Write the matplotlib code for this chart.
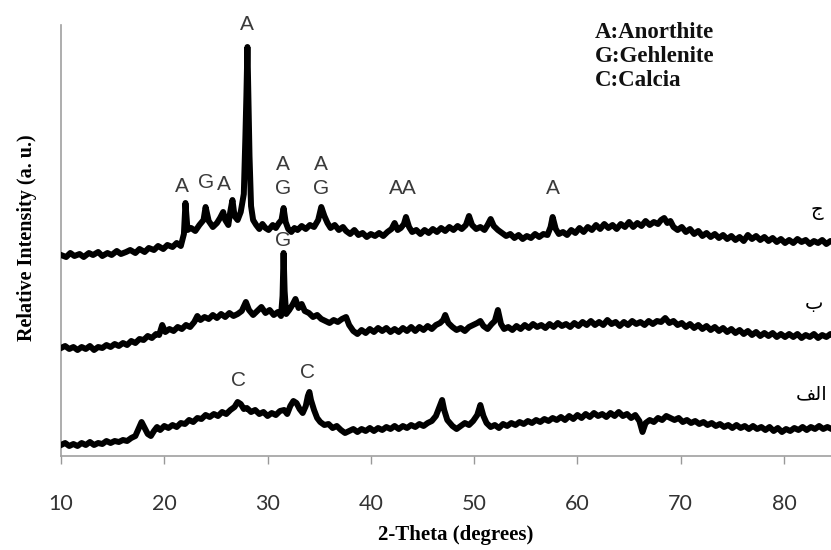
import matplotlib
matplotlib.use("Agg")
from matplotlib import pyplot as plt

# XRD patterns: (2-theta, relative intensity)
pattern_c = [(10.0,201),(10.5,199),(10.9,203),(11.3,200),(11.8,202),(12.2,199),(12.7,203),(13.1,201),(13.6,204),(14.0,200),
             (14.5,203),(14.9,201),(15.4,205),(15.8,202),(16.3,204),(16.7,206),(17.2,203),(17.6,207),(18.1,204),(18.5,208),
             (19.0,206),(19.4,210),(19.9,207),(20.3,211),(20.8,209),(21.2,213),(21.6,210),(21.9,222),(22.05,253),(22.25,226),
             (22.6,228),(23.0,225),(23.4,231),(23.8,236),(24.0,249),(24.3,235),(24.7,229),(25.1,233),(25.4,238),(25.7,244),
             (25.9,236),(26.2,231),(26.4,245),(26.6,256),(26.8,240),(27.1,236),(27.4,244),(27.7,262),(27.85,318),(27.95,360),
             (28.05,409),(28.15,352),(28.25,300),(28.4,250),(28.6,236),(28.9,231),(29.2,227),(29.5,232),(29.8,228),(30.1,226),
             (30.5,231),(30.8,228),(31.1,233),(31.35,236),(31.55,248),(31.75,234),(32.0,227),(32.3,224),(32.6,228),(32.9,226),
             (33.3,230),(33.7,227),(34.1,231),(34.5,229),(34.9,236),(35.2,249),(35.5,240),(35.8,233),(36.1,228),(36.5,231),
             (36.9,226),(37.3,229),(37.6,225),(38.0,222),(38.4,226),(38.8,221),(39.2,223),(39.6,219),(40.0,222),(40.4,220),
             (40.8,223),(41.2,220),(41.6,224),(42.0,227),(42.3,233),(42.6,226),(42.9,228),(43.2,232),(43.4,239),(43.7,229),
             (44.0,224),(44.4,226),(44.8,222),(45.2,226),(45.6,223),(46.0,227),(46.4,224),(46.8,228),(47.2,225),(47.6,229),
             (48.0,226),(48.4,230),(48.8,227),(49.2,231),(49.5,240),(49.8,231),(50.2,227),(50.6,229),(51.0,226),(51.3,231),
             (51.6,237),(51.9,230),(52.3,226),(52.7,223),(53.1,220),(53.5,222),(53.9,218),(54.3,221),(54.7,217),(55.1,220),
             (55.5,218),(55.9,222),(56.3,219),(56.7,222),(57.1,221),(57.4,229),(57.6,239),(57.9,227),(58.2,222),(58.6,224),
             (59.0,221),(59.4,226),(59.8,223),(60.2,228),(60.6,224),(61.0,229),(61.4,226),(61.8,231),(62.2,227),(62.6,232),
             (63.0,228),(63.4,231),(63.8,227),(64.2,232),(64.6,229),(65.0,234),(65.4,229),(65.8,233),(66.2,230),(66.6,235),
             (67.0,231),(67.4,234),(67.8,232),(68.1,236),(68.4,238),(68.7,233),(69.0,235),(69.3,229),(69.7,226),(70.1,229),
             (70.5,224),(70.9,227),(71.3,222),(71.7,225),(72.1,220),(72.5,223),(72.9,219),(73.3,222),(73.7,218),(74.1,221),
             (74.5,217),(74.9,220),(75.3,216),(75.7,219),(76.1,215),(76.5,221),(76.9,217),(77.3,220),(77.7,216),(78.1,219),
             (78.5,215),(78.9,218),(79.3,214),(79.7,217),(80.1,213),(80.5,216),(80.9,213),(81.3,217),(81.7,214),(82.1,216),
             (82.5,212),(82.9,215),(83.3,213),(83.7,216),(84.1,212),(84.5,215),(85.0,214)]

pattern_b = [(10.0,108),(10.4,110),(10.8,107),(11.2,109),(11.6,106),(12.0,109),(12.4,107),(12.8,110),(13.2,106),(13.6,109),
             (14.0,108),(14.4,111),(14.8,109),(15.2,112),(15.6,110),(16.0,113),(16.4,111),(16.8,115),(17.2,113),(17.6,117),
             (18.0,116),(18.4,120),(18.8,118),(19.2,122),(19.5,121),(19.8,131),(20.1,124),(20.5,127),(20.9,125),(21.3,129),
             (21.7,127),(22.1,131),(22.5,129),(22.9,134),(23.2,140),(23.5,136),(23.9,139),(24.3,137),(24.7,141),(25.1,138),
             (25.5,142),(25.9,139),(26.3,143),(26.7,140),(27.1,142),(27.5,145),(27.9,154),(28.2,146),(28.6,141),(29.0,145),
             (29.4,149),(29.8,143),(30.2,146),(30.6,141),(31.0,144),(31.3,140),(31.45,160),(31.55,203),(31.65,165),(31.8,142),
             (32.1,146),(32.4,151),(32.7,157),(33.0,148),(33.3,152),(33.6,145),(34.0,143),(34.4,139),(34.8,141),(35.2,137),
             (35.6,135),(36.0,133),(36.4,136),(36.8,134),(37.2,137),(37.6,139),(37.9,131),(38.3,125),(38.7,122),(39.1,126),
             (39.5,123),(39.9,127),(40.3,124),(40.7,128),(41.1,125),(41.5,128),(41.9,124),(42.3,127),(42.7,124),(43.1,128),
             (43.5,125),(43.9,129),(44.3,125),(44.7,129),(45.1,126),(45.5,130),(45.9,127),(46.3,131),(46.7,133),(47.0,136),
             (47.2,141),(47.5,133),(47.9,129),(48.3,126),(48.7,128),(49.1,125),(49.5,129),(49.9,131),(50.3,133),(50.6,135),
             (50.9,130),(51.3,127),(51.7,132),(52.0,135),(52.3,146),(52.6,132),(52.9,127),(53.3,129),(53.7,126),(54.1,130),
             (54.5,127),(54.9,131),(55.3,128),(55.7,132),(56.1,129),(56.5,131),(56.9,128),(57.3,132),(57.7,129),(58.1,133),
             (58.5,130),(58.9,132),(59.3,129),(59.7,133),(60.1,130),(60.5,134),(60.9,131),(61.3,135),(61.7,131),(62.1,134),
             (62.5,131),(62.9,136),(63.3,132),(63.7,134),(64.1,130),(64.5,134),(64.9,131),(65.3,135),(65.7,132),(66.1,134),
             (66.5,131),(66.9,135),(67.3,132),(67.7,135),(68.1,134),(68.5,138),(68.9,133),(69.3,135),(69.7,131),(70.1,133),
             (70.5,129),(70.9,132),(71.3,128),(71.7,131),(72.1,127),(72.5,130),(72.9,126),(73.3,129),(73.7,125),(74.1,128),
             (74.5,124),(74.9,127),(75.3,123),(75.7,126),(76.1,122),(76.5,125),(76.9,121),(77.3,124),(77.7,120),(78.1,123),
             (78.5,120),(78.9,123),(79.3,119),(79.7,122),(80.1,119),(80.5,122),(80.9,119),(81.3,122),(81.7,118),(82.1,121),
             (82.5,119),(82.9,122),(83.3,118),(83.7,121),(84.1,119),(84.5,122),(85.0,120)]

pattern_a = [(10.0,11),(10.4,13),(10.8,10),(11.2,12),(11.6,10),(12.0,13),(12.4,11),(12.8,14),(13.2,11),(13.6,13),
             (14.0,12),(14.4,15),(14.8,13),(15.2,15),(15.6,14),(16.0,16),(16.4,15),(16.8,18),(17.2,20),(17.5,27),
             (17.8,34),(18.1,28),(18.4,22),(18.7,20),(19.0,25),(19.3,29),(19.6,26),(20.0,30),(20.4,28),(20.8,31),
             (21.2,29),(21.6,33),(22.0,32),(22.4,36),(22.8,34),(23.2,38),(23.6,37),(24.0,41),(24.4,39),(24.8,42),
             (25.2,40),(25.6,44),(26.0,42),(26.4,46),(26.8,49),(27.1,54),(27.4,52),(27.7,47),(28.0,48),(28.4,44),
             (28.8,46),(29.2,42),(29.6,44),(30.0,40),(30.4,43),(30.8,41),(31.2,45),(31.6,46),(31.9,42),(32.2,50),
             (32.5,55),(32.8,53),(33.1,47),(33.4,43),(33.7,50),(33.9,60),(34.05,64),(34.2,56),(34.5,46),(34.8,38),
             (35.1,34),(35.5,31),(35.9,32),(36.3,28),(36.7,30),(37.1,26),(37.5,23),(37.9,25),(38.3,27),(38.7,24),
             (39.1,27),(39.5,25),(39.9,28),(40.3,25),(40.7,28),(41.1,26),(41.5,29),(41.9,27),(42.3,30),(42.7,27),
             (43.1,30),(43.5,28),(43.9,31),(44.3,29),(44.7,32),(45.1,30),(45.5,33),(45.9,35),(46.3,40),(46.6,48),
             (46.9,56),(47.1,46),(47.4,36),(47.9,30),(48.3,27),(48.7,30),(49.1,33),(49.5,31),(49.9,35),(50.3,41),
             (50.6,51),(50.9,40),(51.2,33),(51.6,29),(52.0,31),(52.4,28),(52.8,32),(53.2,30),(53.6,33),(54.0,31),
             (54.4,34),(54.8,32),(55.2,35),(55.6,33),(56.0,36),(56.4,34),(56.8,37),(57.2,35),(57.6,38),(58.0,36),
             (58.4,39),(58.8,36),(59.2,40),(59.6,37),(60.0,41),(60.4,38),(60.8,42),(61.2,39),(61.6,43),(62.0,40),
             (62.4,42),(62.8,39),(63.2,43),(63.6,40),(64.0,44),(64.4,40),(64.8,42),(65.2,38),(65.6,41),(66.0,35),
             (66.3,24),(66.6,33),(67.0,36),(67.4,34),(67.8,38),(68.2,36),(68.6,40),(69.0,38),(69.4,36),(69.8,38),
             (70.2,34),(70.6,36),(71.0,33),(71.4,35),(71.8,32),(72.2,34),(72.6,31),(73.0,33),(73.4,30),(73.8,32),
             (74.2,29),(74.6,31),(75.0,28),(75.4,31),(75.8,28),(76.2,30),(76.6,27),(77.0,30),(77.4,27),(77.8,29),
             (78.2,26),(78.6,29),(79.0,25),(79.4,28),(79.8,24),(80.2,27),(80.6,25),(81.0,28),(81.4,26),(81.8,29),
             (82.2,26),(82.6,29),(83.0,27),(83.4,30),(83.8,27),(84.2,29),(84.6,27),(85.0,28)]

# phase marks (letter, 2-theta, height)
peak_marks = [("A", 28.0, 432), ("A", 21.7, 270), ("G", 24.0, 273), ("A", 25.8, 272),
              ("A", 31.5, 292), ("G", 31.5, 268), ("A", 35.2, 292), ("G", 35.2, 268),
              ("AA", 43.1, 268), ("A", 57.6, 267),
              ("G", 31.5, 216),
              ("C", 27.2, 75), ("C", 33.9, 83)]

# sample names at the right end (Arabic letters in visual left-to-right order), right-aligned
sample_names = [("\u062c", 83.75, 246), ("\u0628", 83.8, 152), ("\ufed2\ufedf\u0627", 84.25, 62)]
legend_lines = ["A:Anorthite", "G:Gehlenite", "C:Calcia"]
xticks = [10, 20, 30, 40, 50, 60, 70, 80]

fig = plt.figure(figsize=(8.31, 5.5), dpi=100)
ax = fig.add_axes([61/831, 94/550, 770/831, 431/550])

for pat in (pattern_c, pattern_b, pattern_a):
    xs = [p[0] for p in pat]
    ys = [p[1] for p in pat]
    ax.plot(xs, ys, color="black", lw=4.3, solid_joinstyle="round", zorder=3)

ax.set_xlim(10, 84.55)
ax.set_ylim(0, 431)
ax.set_xticks(xticks)
ax.set_xticklabels([str(t) for t in xticks], fontfamily="Lato", fontsize=15.5, color="#333333")
ax.set_yticks([])
ax.tick_params(axis="x", direction="out", length=6, width=1, color="#999999", pad=21)
for s in ("top", "right"):
    ax.spines[s].set_visible(False)
for s in ("left", "bottom"):
    ax.spines[s].set_color("#a0a0a0")
    ax.spines[s].set_linewidth(1.2)

for lab, x, y in peak_marks:
    ax.text(x, y, lab, ha="center", va="center", fontsize=15, color="#3a3a3a",
            fontfamily="Liberation Sans", zorder=2)

for lab, x, y in sample_names:
    ax.text(x, y, lab, ha="right", va="center", fontsize=14, color="black",
            fontfamily="DejaVu Sans", clip_on=False)

for i, line in enumerate(legend_lines):
    fig.text(595/831, 1 - (32 + 24.5*i)/550, line, ha="left", va="center",
             fontsize=16.5, fontfamily="Liberation Serif", fontweight="bold", color="#111111")

fig.text(456/831, 1 - 535/550, "2-Theta (degrees)", ha="center", va="center",
         fontsize=15, fontfamily="Liberation Serif", fontweight="bold")
fig.text(27/831, 1 - 238/550, "Relative Intensity (a. u.)", ha="center", va="center",
         rotation=90, fontsize=14.5, fontfamily="Liberation Serif", fontweight="bold")

fig.savefig("out.png", dpi=100)
